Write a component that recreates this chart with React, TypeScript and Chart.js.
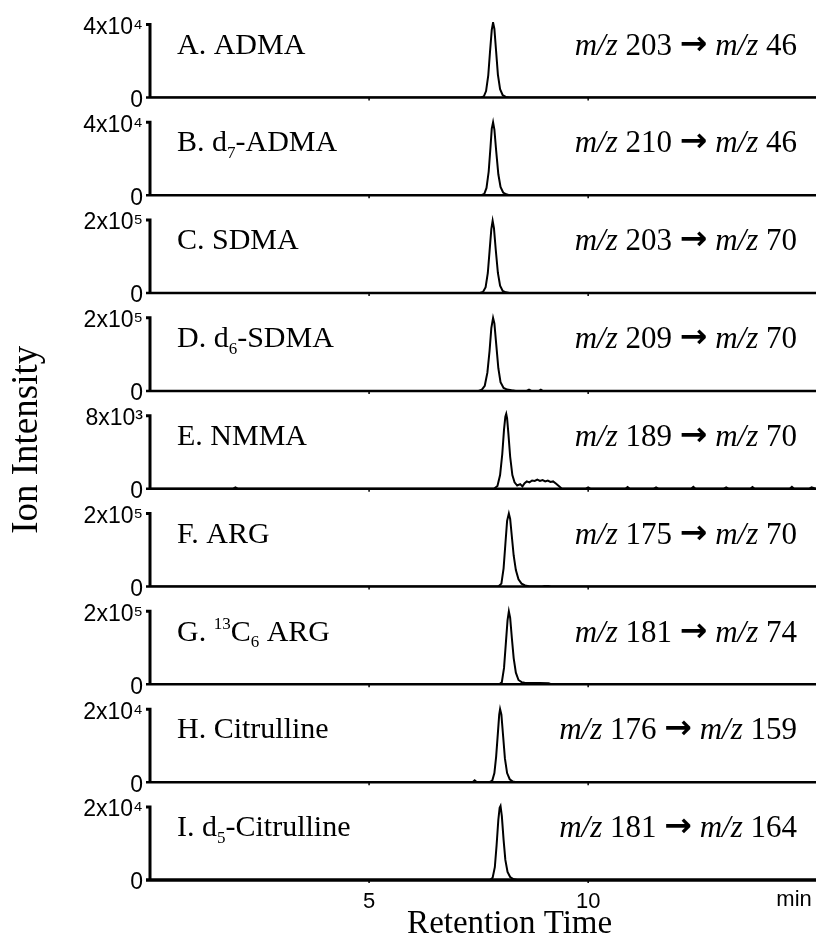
import React, { useEffect, useRef } from 'react';
import { Chart, registerables } from 'chart.js';

Chart.register(...registerables);

// ---------- data ----------
// retention time in minutes, ion intensity in counts
const timesA = [0, 7.55, 7.62, 7.67, 7.72, 7.76, 7.8, 7.83, 7.86, 7.9, 7.94, 7.99, 8.05, 8.12, 8.2, 15.2];
const valuesA = [0, 0, 600, 3500, 12000, 25000, 37000, 41000, 37500, 25000, 12500, 4500, 1200, 300, 0, 0];

const timesB = [0, 7.56, 7.63, 7.68, 7.73, 7.77, 7.8, 7.83, 7.86, 7.9, 7.95, 8.0, 8.06, 8.13, 8.2, 15.2];
const valuesB = [0, 0, 800, 4000, 13000, 26000, 36500, 40000, 36000, 24500, 11500, 4500, 1500, 500, 0, 0];

const timesC = [0, 7.53, 7.6, 7.66, 7.71, 7.75, 7.79, 7.82, 7.85, 7.89, 7.94, 7.99, 8.05, 8.12, 8.2, 15.2];
const valuesC = [0, 0, 3000, 16000, 55000, 115000, 175000, 198000, 178000, 120000, 55000, 20000, 6000, 2000, 0, 0];

const timesD = [0, 7.5, 7.57, 7.64, 7.7, 7.75, 7.79, 7.83, 7.86, 7.9, 7.95, 8.0, 8.07, 8.15, 8.25, 8.35, 8.6, 8.65, 8.7, 8.88, 8.92, 8.96, 15.2];
const valuesD = [0, 0, 3000, 14000, 50000, 110000, 172000, 200000, 185000, 130000, 62000, 24000, 8000, 3500, 1500, 0, 0, 3500, 0, 0, 3000, 0, 0];

const timesE = [0, 1.9, 1.95, 2.0, 7.85, 7.93, 7.99, 8.04, 8.08, 8.11, 8.13, 8.15, 8.18, 8.22, 8.27, 8.32, 8.38, 8.45, 8.5, 8.55, 8.6, 8.66, 8.72, 8.78, 8.84, 8.9, 8.96, 9.02, 9.08, 9.14, 9.2, 9.27, 9.33, 9.4, 9.95, 10.0, 10.05, 10.85, 10.9, 10.95, 11.5, 11.55, 11.6, 12.35, 12.4, 12.45, 13.1, 13.15, 13.2, 13.7, 13.75, 13.8, 14.6, 14.65, 14.7, 15.05, 15.1, 15.2];
const valuesE = [0, 0, 150, 0, 0, 300, 1500, 3800, 6500, 7900, 8200, 7700, 6000, 3500, 1500, 700, 350, 500, 250, 600, 800, 700, 900, 850, 1000, 850, 950, 800, 900, 750, 800, 550, 300, 0, 0, 150, 0, 0, 180, 0, 0, 150, 0, 0, 200, 0, 0, 150, 0, 0, 180, 0, 0, 200, 0, 0, 150, 0];

const timesF = [0, 7.95, 8.02, 8.07, 8.11, 8.15, 8.19, 8.22, 8.26, 8.3, 8.35, 8.41, 8.48, 8.56, 8.65, 8.75, 8.95, 9.0, 9.1, 9.15, 15.2];
const valuesF = [0, 0, 8000, 50000, 115000, 180000, 200000, 185000, 135000, 85000, 45000, 20000, 8000, 3000, 1000, 0, 0, 1500, 1500, 0, 0];

const timesG = [0, 7.97, 8.03, 8.08, 8.12, 8.16, 8.19, 8.22, 8.26, 8.3, 8.35, 8.41, 8.48, 8.55, 8.7, 8.9, 9.1, 9.17, 9.2, 15.2];
const valuesG = [0, 0, 6000, 45000, 110000, 175000, 200000, 182000, 125000, 72000, 32000, 12000, 6000, 4500, 4000, 3500, 3000, 0, 0, 0];

const timesH = [0, 7.36, 7.41, 7.46, 7.75, 7.81, 7.86, 7.9, 7.94, 7.97, 7.99, 8.02, 8.06, 8.1, 8.15, 8.21, 8.28, 8.35, 15.2];
const valuesH = [0, 0, 500, 0, 0, 400, 2500, 7000, 13500, 18500, 20000, 18500, 12500, 6500, 2500, 800, 200, 0, 0];

const timesI = [0, 7.76, 7.82, 7.87, 7.91, 7.95, 7.98, 8.0, 8.03, 8.07, 8.11, 8.16, 8.22, 8.3, 8.38, 15.2];
const valuesI = [0, 0, 600, 3500, 9500, 16500, 19800, 20300, 17500, 11000, 5500, 2200, 800, 200, 0, 0];

// y-axis full-scale value of each panel and its tick label
const panelTops = [40000, 40000, 200000, 200000, 8000, 200000, 200000, 20000, 20000];
const topTickLabels = ['4x10⁴', '4x10⁴', '2x10⁵', '2x10⁵', '8x10³', '2x10⁵', '2x10⁵', '2x10⁴', '2x10⁴'];

// analyte names (segments: sub = subscript, sup = superscript)
type Seg = { t: string; it?: boolean; sub?: boolean; sup?: boolean; arrow?: boolean };
const panelNames: Seg[][] = [
  [{ t: 'A. ADMA' }],
  [{ t: 'B. d' }, { t: '7', sub: true }, { t: '-ADMA' }],
  [{ t: 'C. SDMA' }],
  [{ t: 'D. d' }, { t: '6', sub: true }, { t: '-SDMA' }],
  [{ t: 'E. NMMA' }],
  [{ t: 'F. ARG' }],
  [{ t: 'G. ' }, { t: '13', sup: true }, { t: 'C' }, { t: '6', sub: true }, { t: ' ARG' }],
  [{ t: 'H. Citrulline' }],
  [{ t: 'I. d' }, { t: '5', sub: true }, { t: '-Citrulline' }],
];
const precursorMz = [203, 210, 203, 209, 189, 175, 181, 176, 181];
const productMz = [46, 46, 70, 70, 70, 70, 74, 159, 164];

const xTickValues = [5, 10];
const xMin = 0;
const xMax = 15.2;
const xUnitLabel = 'min';
const xUnitPosition = 14.7;
const xTitle = 'Retention Time';
const yTitle = 'Ion Intensity';

const seriesTimes = [timesA, timesB, timesC, timesD, timesE, timesF, timesG, timesH, timesI];
const seriesValues = [valuesA, valuesB, valuesC, valuesD, valuesE, valuesF, valuesG, valuesH, valuesI];

// ---------- layout ----------
const PANEL_H = 73; // px between 0 and the top tick
const SLOTS = [75.4, 97.8, 97.8, 97.8, 97.8, 97.8, 97.8, 97.8, 97.8];
const SANS = '"Liberation Sans", Arial, sans-serif';
const SERIF = '"Liberation Serif", "Times New Roman", serif';

function segFont(s: Seg, size: number) {
  if (s.arrow) return `bold ${Math.round(size * 1.05)}px "DejaVu Sans", sans-serif`;
  const sz = s.sub || s.sup ? Math.round(size * 0.58) : size;
  return `${s.it ? 'italic ' : ''}${sz}px ${SERIF}`;
}

function drawRich(ctx: CanvasRenderingContext2D, segs: Seg[], x: number, y: number, size: number, align: 'left' | 'right') {
  let total = 0;
  for (const s of segs) {
    ctx.font = segFont(s, size);
    total += ctx.measureText(s.t).width;
  }
  let cx = align === 'right' ? x - total : x;
  ctx.textAlign = 'left';
  ctx.textBaseline = 'alphabetic';
  for (const s of segs) {
    ctx.font = segFont(s, size);
    const dy = s.sub ? size * 0.22 : s.sup ? -size * 0.38 : s.arrow ? -1 : 0;
    ctx.fillText(s.t, cx, y + dy);
    cx += ctx.measureText(s.t).width;
  }
}

const framePlugin = {
  id: 'panelFrames',
  beforeDatasetsDraw(chart: any) {
    const { ctx, chartArea: a, scales } = chart;
    const xs = scales.x;
    ctx.save();
    ctx.strokeStyle = '#000';
    ctx.lineJoin = 'miter';
    panelTops.forEach((top, i) => {
      const s = scales['y' + i];
      const y0 = s.getPixelForValue(0);
      const yt = s.getPixelForValue(top);
      ctx.lineWidth = 3;
      ctx.beginPath();
      ctx.moveTo(a.left - 4, yt);
      ctx.lineTo(a.left, yt);
      ctx.lineTo(a.left, y0);
      ctx.stroke();
      ctx.lineWidth = i === panelTops.length - 1 ? 3.5 : 2.5;
      ctx.beginPath();
      ctx.moveTo(a.left - 4, y0);
      ctx.lineTo(a.right, y0);
      ctx.stroke();
      ctx.lineWidth = 1.5;
      for (const t of xTickValues) {
        const px = xs.getPixelForValue(t);
        ctx.beginPath();
        ctx.moveTo(px, y0);
        ctx.lineTo(px, y0 + 3);
        ctx.stroke();
      }
    });
    ctx.restore();
  },
  afterDraw(chart: any) {
    const { ctx, chartArea: a, scales } = chart;
    const xs = scales.x;
    ctx.save();
    ctx.fillStyle = '#000';
    panelTops.forEach((top, i) => {
      const s = scales['y' + i];
      const y0 = s.getPixelForValue(0);
      const yt = s.getPixelForValue(top);
      const yl = y0 + (yt - y0) * 0.6;
      drawRich(ctx, panelNames[i], a.left + 27, yl, 30, 'left');
      const right: Seg[] = [
        { t: 'm/z', it: true },
        { t: ` ${precursorMz[i]} ` },
        { t: '→', arrow: true },
        { t: ' ' },
        { t: 'm/z', it: true },
        { t: ` ${productMz[i]}` },
      ];
      drawRich(ctx, right, a.right - 19, yl + 1, 31, 'right');
    });
    // unit label on x axis
    ctx.font = `22px ${SANS}`;
    ctx.textAlign = 'center';
    ctx.textBaseline = 'top';
    ctx.fillText(xUnitLabel, xs.getPixelForValue(xUnitPosition), a.bottom + 9);
    // x axis title
    ctx.font = `33px ${SERIF}`;
    ctx.textBaseline = 'alphabetic';
    ctx.fillText(xTitle, a.left + (a.right - a.left) * 0.54, a.bottom + 53);
    ctx.restore();
  },
};

function buildYScale(i: number) {
  const top = panelTops[i];
  return {
    type: 'linear',
    position: 'left',
    stack: 'panels',
    stackWeight: SLOTS[i],
    weight: panelTops.length - i,
    min: 0,
    max: (top * SLOTS[i]) / PANEL_H,
    afterBuildTicks: (s: any) => {
      s.ticks = [{ value: 0 }, { value: top }];
    },
    afterFit: (s: any) => {
      s.width = 150;
    },
    grid: { display: false, drawTicks: false },
    border: { display: false },
    ticks: {
      autoSkip: false,
      padding: 7,
      labelOffset: 3,
      color: '#000',
      font: { family: SANS, size: 23 },
      callback: (v: number) => (v === 0 ? '0' : topTickLabels[i]),
    },
    title:
      i === 4
        ? {
            display: true,
            text: yTitle,
            color: '#000',
            font: { family: SERIF, size: 37, lineHeight: 1 },
            padding: { top: 9, bottom: 0 },
          }
        : { display: false },
  };
}

export default function App() {
  const ref = useRef<HTMLCanvasElement | null>(null);
  useEffect(() => {
    const canvas = ref.current;
    if (!canvas) return;
    const datasets = seriesTimes.map((ts, i) => ({
      label: panelNames[i].map((s) => s.t).join(''),
      data: ts.map((t, k) => ({ x: t, y: seriesValues[i][k] })),
      yAxisID: 'y' + i,
      borderColor: '#000',
      borderWidth: 2,
      pointRadius: 0,
      tension: 0,
      fill: false,
    }));
    const scales: any = {
      x: {
        type: 'linear',
        position: 'bottom',
        min: xMin,
        max: xMax,
        afterBuildTicks: (s: any) => {
          s.ticks = xTickValues.map((v) => ({ value: v }));
        },
        grid: { display: false, drawTicks: false },
        border: { display: false },
        ticks: {
          autoSkip: false,
          maxRotation: 0,
          padding: 9,
          color: '#000',
          font: { family: SANS, size: 22 },
          callback: (v: number) => String(v),
        },
      },
    };
    panelTops.forEach((_, i) => {
      scales['y' + i] = buildYScale(i);
    });
    const chart = new Chart(canvas, {
      type: 'line',
      data: { datasets } as any,
      options: {
        animation: false,
        responsive: false,
        devicePixelRatio: 1,
        layout: { padding: { top: 22, right: 2, bottom: 19.6, left: 0 } },
        plugins: { legend: { display: false }, tooltip: { enabled: false } },
        scales,
      } as any,
      plugins: [framePlugin as any],
    });
    return () => chart.destroy();
  }, []);
  return (
    <div style={{ position: 'absolute', left: 0, top: 0, width: 818, height: 944, background: '#fff' }}>
      <canvas ref={ref} width={818} height={944} style={{ display: 'block' }} />
    </div>
  );
}
